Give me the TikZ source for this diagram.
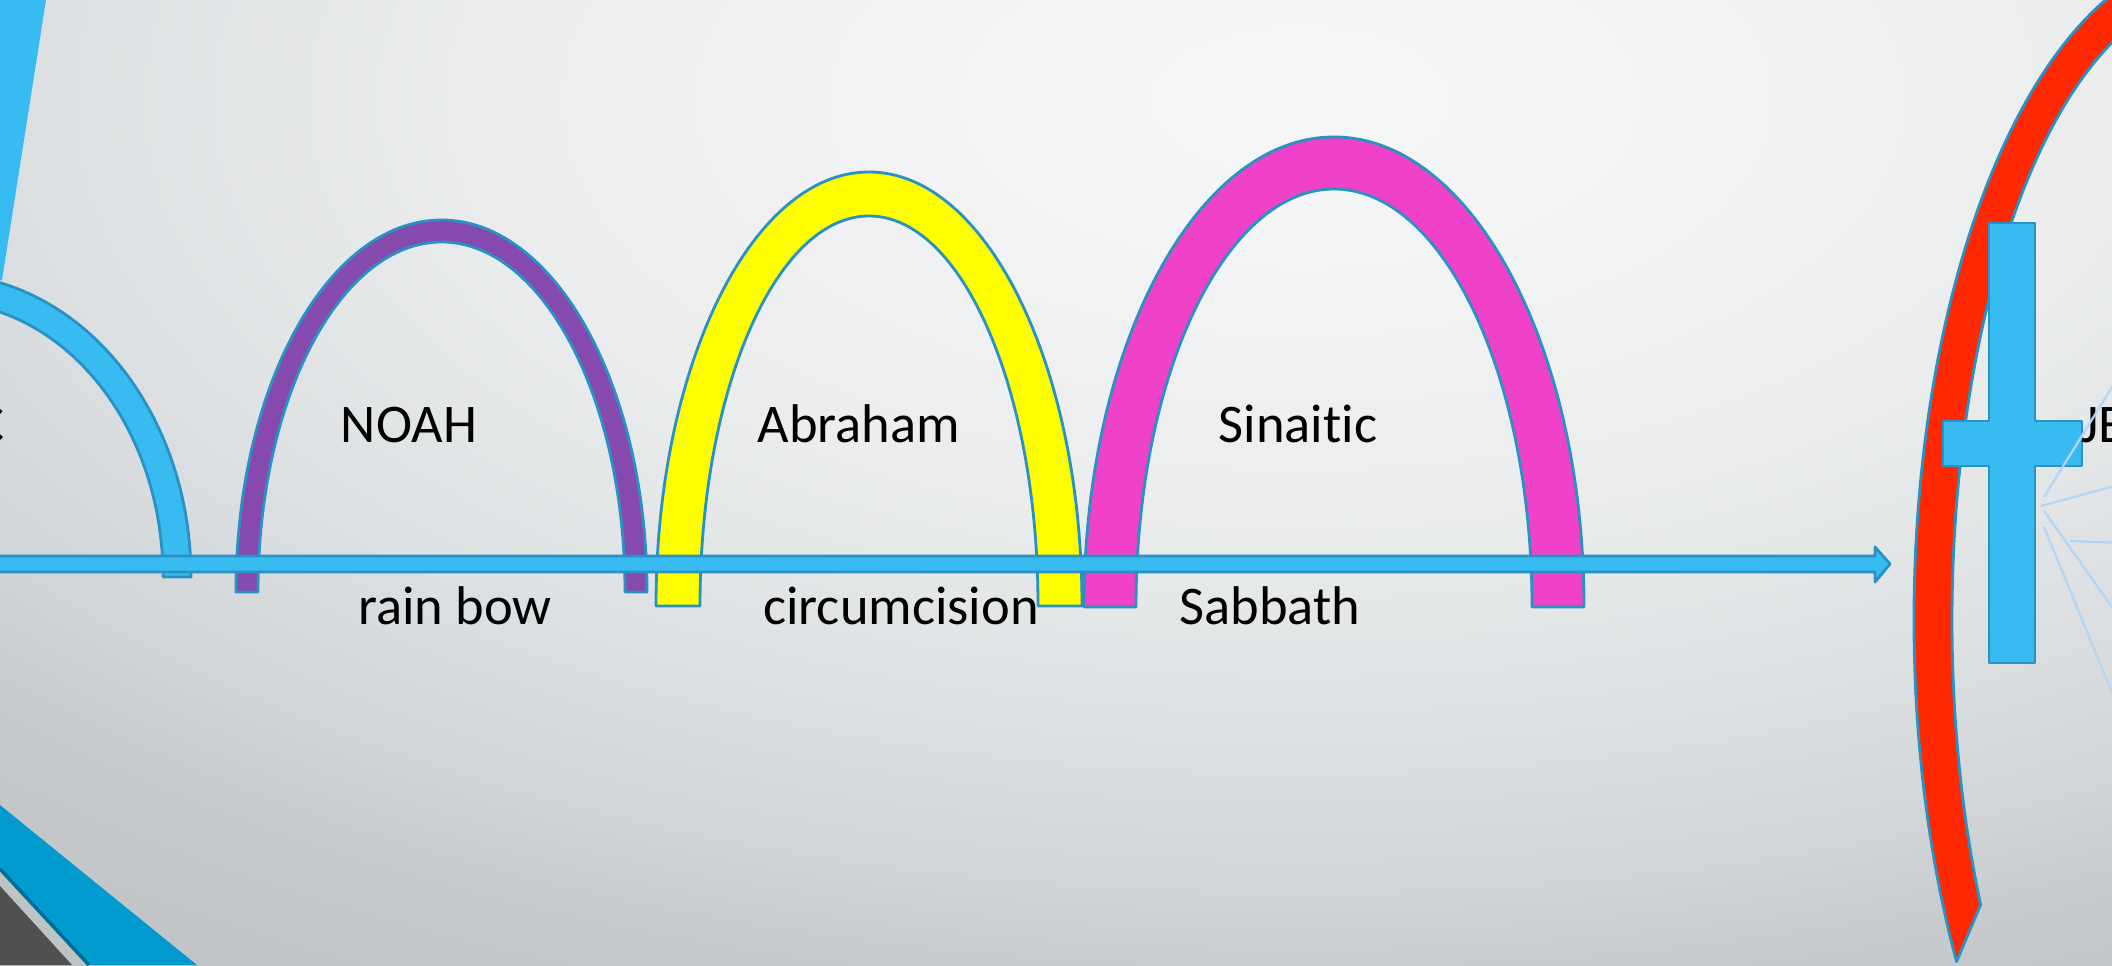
\documentclass[tikz,border=0pt]{standalone}
\usepackage{fontspec}
\setmainfont{Carlito}[Ligatures=NoCommon]
\usepackage{tikz}
\usepackage{xcolor}
\definecolor{cCyan}{RGB}{56,187,240}
\definecolor{cEdge}{RGB}{40,146,196}
\definecolor{cPurple}{RGB}{134,73,174}
\definecolor{cYellow}{RGB}{255,255,0}
\definecolor{cPink}{RGB}{240,66,200}
\definecolor{cRed}{RGB}{255,40,0}
\definecolor{cRay}{RGB}{178,214,246}
\definecolor{cDeep}{RGB}{3,155,207}
\definecolor{cDeepLine}{RGB}{0,112,152}
\definecolor{cStrip}{RGB}{190,196,198}
\definecolor{cSlate}{RGB}{80,80,80}
\definecolor{bgA}{RGB}{246,247,247}
\definecolor{bgB}{RGB}{243,244,245}
\definecolor{bgC}{RGB}{234,236,237}
\definecolor{bgD}{RGB}{221,224,226}
\definecolor{bgE}{RGB}{210,213,215}
\definecolor{bgF}{RGB}{200,203,205}
\definecolor{bgG}{RGB}{190,193,195}
\pgfdeclareradialshading{bgglow}{\pgfpoint{0bp}{0bp}}{color(0bp)=(bgA); color(3.5bp)=(bgB); color(9.5bp)=(bgC); color(14.5bp)=(bgD); color(18bp)=(bgE); color(20bp)=(bgF); color(25bp)=(bgG); color(50bp)=(bgG)}
\tikzset{
	bow/.style   ={draw=cEdge, line width=1.6pt, line join=round},
	lbl/.style   ={anchor=base, inner sep=0pt, text=black},
	ray/.style   ={draw=cRay, line width=1.3pt},
}

\begin{document}
\begin{tikzpicture}[x=0.02cm, y=0.02cm, font=\fontsize{31}{36}\selectfont]
	\useasboundingbox (0,0) rectangle (2112,965);
	\clip (0,0) rectangle (2112,965);
	\shade[shading=bgglow] (1300,865) ellipse [x radius=2200, y radius=1100];
	% corner pieces
	\fill[cDeep] (0,160) -- (197,0) -- (90,0) -- (0,95) -- cycle;
	\fill[cStrip] (0,95) -- (90,0) -- (72,0) -- (0,79) -- cycle;
	\draw[cDeepLine, line width=2pt] (0,96) -- (89,0);
	\fill[cSlate] (0,79) -- (72,0) -- (0,0) -- cycle;
	\fill[cCyan] (0,965) -- (46,965) -- (2,685) -- (0,685) -- cycle;
	\node[lbl, anchor=base east] (adamic) at (5,523) {C};
	% covenant arches
	\foreach \cx/\cy/\rx/\ry/\t/\col in {-60/388/251/303/28/cCyan, 441.5/373/205.5/372/22/cPurple, 869/359/213/434/44/cYellow, 1334/358/250/470/52/cPink}{
		\pgfmathsetmacro\irx{\rx-\t}
		\pgfmathsetmacro\iry{\ry-\t}
		\filldraw[bow, fill=\col] (\cx+\rx,\cy) arc[start angle=0, end angle=180, x radius=\rx, y radius=\ry] -- ++(\t,0) arc[start angle=180, end angle=0, x radius=\irx, y radius=\iry] -- cycle;
	}
	% time line
	\filldraw[bow, fill=cCyan] (-20,409) -- (1875,409) -- (1875,418) -- (1890,401) -- (1875,383) -- (1875,393) -- (-20,393) -- cycle;
	\node[lbl] (noah) at (409,523) {NOAH};
	\node[lbl] (abraham) at (859,523) {Abraham};
	\node[lbl] (sinai) at (1298,523) {Sinaitic};
	\node[lbl] (rainbow) at (455,341) {rain bow};
	\node[lbl] (circum) at (901,341) {circumcision};
	\node[lbl] (sabbath) at (1270,341) {Sabbath};
	% new covenant
	\filldraw[bow, fill=cRed] (2291.6,987.3) arc[start angle=75, end angle=210.9, x radius=300, y radius=665] -- (1980.6,60.3) arc[start angle=207, end angle=75, x radius=262, y radius=627] -- cycle;
	\filldraw[bow, fill=cCyan] (1989,742) -- (2035,742) -- (2035,544) -- (2082,544) -- (2082,499) -- (2035,499) -- (2035,302) -- (1989,302) -- (1989,499) -- (1943,499) -- (1943,544) -- (1989,544) -- cycle;
	\node[lbl, anchor=base west] (jesus) at (2081,523) {JE};
	\draw[ray] (2044,468) -- (2122,594);
	\draw[ray] (2041,459) -- (2122,481);
	\draw[ray] (2044,454) -- (2122,344);
	\draw[ray] (2070,424) -- (2122,422);
	\draw[ray] (2044,438) -- (2122,248);
\end{tikzpicture}
\end{document}
